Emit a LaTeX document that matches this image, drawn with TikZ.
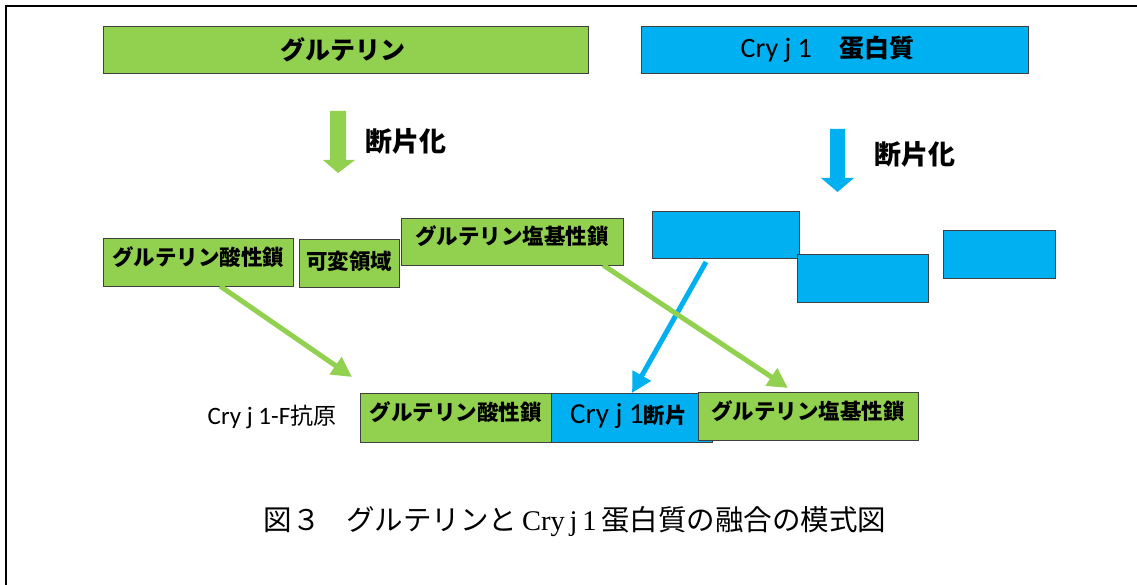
\documentclass[tikz,border=0pt]{standalone}
\usepackage{fontspec}
\setmainfont{Noto Sans CJK JP}
\newfontfamily\lat{Carlito}
\newfontfamily\serlat{Liberation Serif}
\usetikzlibrary{arrows.meta}
\definecolor{gcol}{HTML}{92D050}
\definecolor{bcol}{HTML}{00B0F0}
\definecolor{edge}{HTML}{404040}
\tikzset{
  box/.style={draw=edge, line width=0.9pt, anchor=north west, inner sep=0pt, outer sep=0pt, font=\fontsize{21.5}{24}\selectfont\bfseries},
  gbox/.style={box, fill=gcol},
  bbox/.style={box, fill=bcol},
  garrow/.style={draw=gcol, line width=5pt, -{Triangle[length=20pt,width=20pt]}},
  barrow/.style={draw=bcol, line width=5pt, -{Triangle[length=20pt,width=20pt]}},
  lbl/.style={inner sep=0pt, font=\fontsize{27}{30}\selectfont\bfseries},
}
\begin{document}
\begin{tikzpicture}[x=1pt,y=-1pt]
\useasboundingbox (0,0) rectangle (1137,585);
% frame
\draw[line width=2.5pt] (6,585) -- (6,6) -- (1137,6);
% top boxes
\node[gbox, minimum width=485pt, minimum height=47pt, font=\fontsize{25}{28}\selectfont\bfseries] (glu) at (103,26) {\hspace*{-6pt}グルテリン};
\node[bbox, minimum width=387pt, minimum height=47pt, font=\fontsize{25}{28}\selectfont\bfseries] (cry) at (641,26) {{\lat\mdseries\fontsize{28}{30}\selectfont Cry j 1}\hspace{1.1em}蛋白質\hspace*{14pt}};
% block arrows
\fill[gcol] (330,111) -- (346,111) -- (346,160) -- (355,160) -- (338,173) -- (323,160) -- (330,160) -- cycle;
\node[lbl] (fragA) at (406,141) {断片化};
\fill[bcol] (830,129) -- (845,129) -- (845,178) -- (854,178) -- (837.5,192) -- (821,178) -- (830,178) -- cycle;
\node[lbl] (fragB) at (915,154) {断片化};
% fragments
\node[gbox, minimum width=190pt, minimum height=48pt, text depth=12pt] (acid) at (103,238) {グルテリン酸性鎖};
\node[gbox, minimum width=100pt, minimum height=48pt, text depth=5pt] (var) at (299,239) {可変領域};
\node[gbox, minimum width=222pt, minimum height=47pt, text depth=12pt] (basic) at (401,218) {グルテリン塩基性鎖};
\node[bbox, minimum width=147pt, minimum height=47pt] (b1) at (652,211) {};
\node[bbox, minimum width=131pt, minimum height=48pt] (b2) at (797,254) {};
\node[bbox, minimum width=112pt, minimum height=48pt] (b3) at (943,230) {};
% fused
\node[inner sep=0pt, font=\lat\fontsize{25}{28}\selectfont] (fus) at (272,417) {Cry j 1-F{\fontspec{Noto Sans CJK JP}\fontsize{23}{26}\selectfont 抗原}};
\node[gbox, minimum width=191pt, minimum height=49pt, text depth=12pt] (facid) at (360,393) {グルテリン酸性鎖};
\node[bbox, minimum width=161pt, minimum height=49pt, text depth=8pt] (fcry) at (551,393) {{\lat\mdseries\fontsize{29}{30}\selectfont Cry j 1}断片\hspace*{6pt}};
\node[gbox, minimum width=220pt, minimum height=48pt, text depth=12pt] (fbasic) at (698,392) {グルテリン塩基性鎖};
% connectors
\coordinate (s1) at ([xshift=117pt]acid.south west);
\coordinate (e1) at (352,377);
\coordinate (s2) at ([xshift=202pt]basic.south west);
\coordinate (e2) at (788,388);
\coordinate (s3) at ([xshift=54pt,yshift=-4pt]b1.south west);
\coordinate (e3) at ([xshift=81pt]fcry.north west);
\draw[barrow] (s3) -- (e3);
\draw[garrow] (s1) -- (e1);
\draw[garrow] (s2) -- (e2);
% caption
\node[inner sep=0pt, font=\fontsize{28.5}{32}\selectfont] (cap) at (575,522) {図３\hspace{0.9em}グルテリンと{\serlat\,Cry\,j\,1\,}蛋白質の融合の模式図};
\end{tikzpicture}
\end{document}
